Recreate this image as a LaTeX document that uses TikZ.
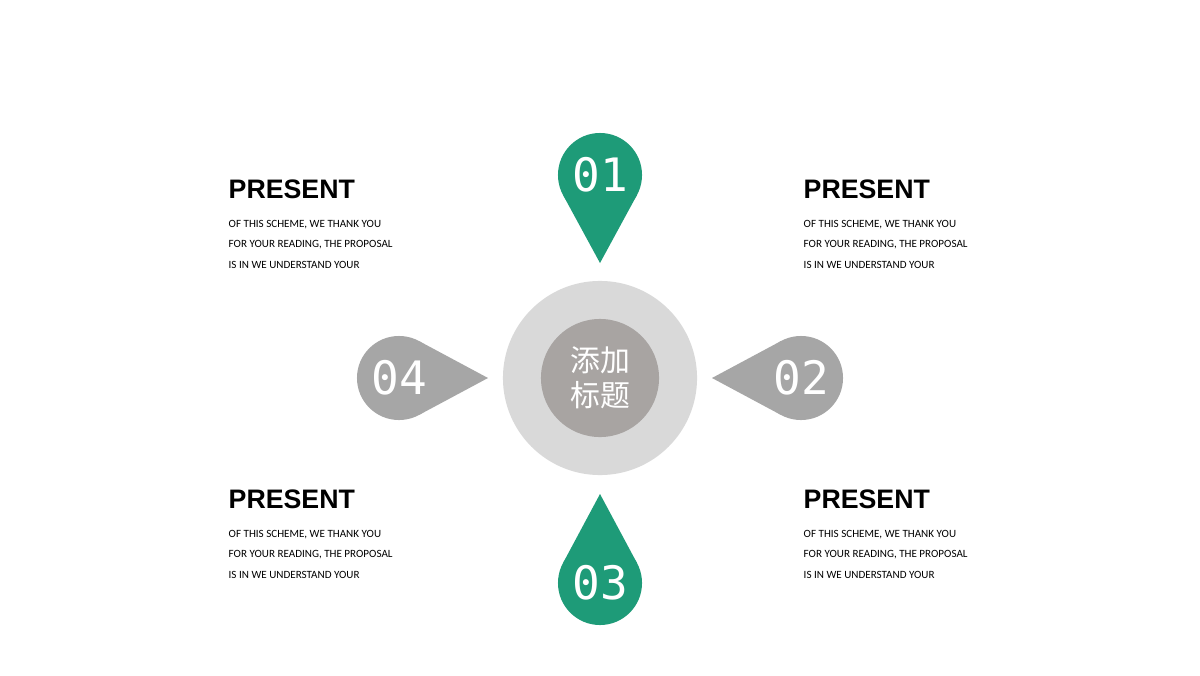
\documentclass[tikz,border=0pt]{standalone}
\usepackage{fontspec}
\usetikzlibrary{positioning, backgrounds, calc}
\newfontfamily\headfont{Liberation Sans}
\newfontfamily\bodyfont{Carlito}
\newfontfamily\numfont{DejaVu Sans Mono}
\newfontfamily\cjkfont{Noto Sans CJK SC}
\definecolor{pingreen}{RGB}{30,155,120}
\definecolor{pingray}{RGB}{166,166,166}
\definecolor{ringgray}{RGB}{217,217,217}
\definecolor{coregray}{RGB}{168,164,162}
\tikzset{
pinhead/.style={circle, fill=#1, minimum size=0.84cm, inner sep=0pt, outer sep=0pt,
	text=white, font=\numfont\fontsize{13.1}{14}\selectfont},
heading/.style={anchor=base west, inner sep=0pt, font=\headfont\bfseries\fontsize{7.6}{9}\selectfont},
bodyline/.style={anchor=base west, inner sep=0pt, font=\bodyfont\fontsize{3.15}{4}\selectfont},
}
% heading and three lines of text
\newcommand{\present}[3]{%
	\node[heading] (#1) at (#2,#3) {PRESENT};
	\foreach \l [count=\i] in {{OF THIS SCHEME, WE THANK YOU},{FOR YOUR READING, THE PROPOSAL},{IS IN WE UNDERSTAND YOUR}}
		\node[bodyline] (#1-\i) at (#2,#3-29-20.5*\i+20.5) {\l};
}
\begin{document}
\begin{tikzpicture}[x=0.01cm, y=0.01cm]
	\useasboundingbox (0,0) rectangle (1200,675);
	
	% centre
	\node[circle, fill=ringgray, minimum size=1.94cm, inner sep=0pt] (ring) at (600,297) {};
	\node[circle, fill=coregray, minimum size=1.18cm, inner sep=0pt, text=white, align=center,
		font=\cjkfont\fontsize{8.5}{10}\selectfont] (core) at (ring) {添加\\标题};
	
	% pins
	\node[pinhead=pingreen] (p1) at (600,500) {01};
	\node[pinhead=pingray] (p2) at (801,297) {02};
	\node[pinhead=pingreen] (p3) at (600,92) {03};
	\node[pinhead=pingray] (p4) at (399,297) {04};
	\coordinate (p1tip) at (600,412);
	\coordinate (p2tip) at (712,297);
	\coordinate (p3tip) at (600,181);
	\coordinate (p4tip) at (488,297);
	\begin{scope}[on background layer]
		\fill[white] (0,0) rectangle (1200,675);
		\fill[pingreen] (p1tip) -- (p1.-28.5) -- (p1.-151.5) -- cycle;
		\fill[pingray] (p2tip) -- (p2.241.5) -- (p2.118.5) -- cycle;
		\fill[pingreen] (p3tip) -- (p3.151.5) -- (p3.28.5) -- cycle;
		\fill[pingray] (p4tip) -- (p4.61.5) -- (p4.-61.5) -- cycle;
	\end{scope}
	
	% texts
	\present{tl}{228}{477}
	\present{tr}{803}{477}
	\present{bl}{228}{167}
	\present{br}{803}{167}
\end{tikzpicture}
\end{document}
